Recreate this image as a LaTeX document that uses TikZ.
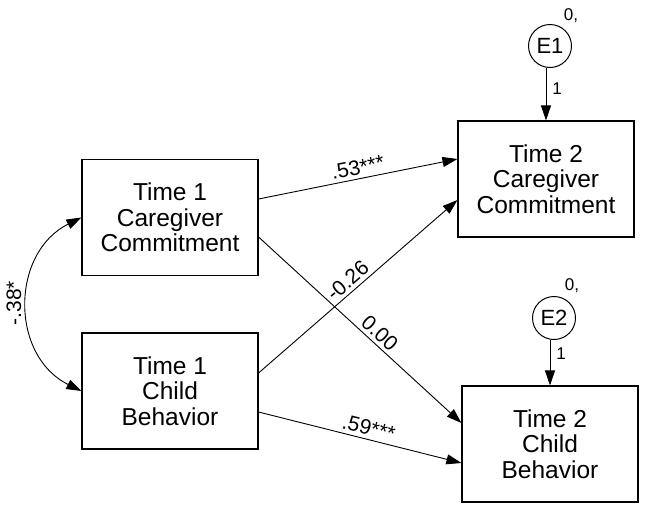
\documentclass[tikz,border=0pt]{standalone}
\usepackage{fontspec}
\setmainfont{Liberation Sans}
\usetikzlibrary{arrows.meta}
\begin{document}
\begin{tikzpicture}[x=1pt,y=-1pt,
  box/.style={draw, line width=1.1pt, minimum width=176pt, minimum height=116pt, inner sep=0pt, align=center, font=\fontsize{24.5}{25.7}\selectfont},
  err/.style={draw, circle, line width=1pt, minimum size=43pt, inner sep=0pt, font=\fontsize{22}{24}\selectfont},
  regpath/.style={line width=0.9pt, -{Triangle[length=15pt,width=10pt]}},
  covpath/.style={line width=0.9pt, {Triangle[length=15pt,width=10pt]}-{Triangle[length=15pt,width=10pt]}},
  coef/.style={sloped, above, inner sep=3.5pt, font=\fontsize{21}{22}\selectfont},
  small/.style={inner sep=0pt, font=\fontsize{17}{18}\selectfont}]
\useasboundingbox (0,0) rectangle (645,509);

\node[box] (T1CC) at (170,217.5) {Time 1\\Caregiver\\Commitment};
\node[box] (T1CB) at (170,391) {Time 1\\Child\\Behavior};
\node[box] (T2CC) at (546,179) {Time 2\\Caregiver\\Commitment};
\node[box] (T2CB) at (550,444) {Time 2\\Child\\Behavior};

\node[err] (E1) at (550,46) {E1};
\node[err] (E2) at (554,318) {E2};
\node[small] (E1v) at (571,16) {0,};
\node[small] (E2v) at (572,286) {0,};

\draw[regpath] (E1.south -| T2CC.north) -- node[small, right=6pt, pos=0.4] (E1w) {1} (T2CC.north);
\draw[regpath] (E2.south -| T2CB.north) -- node[small, right=6pt, pos=0.3] (E2w) {1} (T2CB.north);

\draw[regpath] ([yshift=18.5pt]T1CC.east) -- node[coef, pos=0.51] (b1) {.53***} ([yshift=20pt]T2CC.west);
\draw[regpath] ([yshift=18pt]T1CB.east) -- node[coef, pos=0.485] (b2) {-0.26} ([yshift=-21pt]T2CC.west);
\draw[regpath] ([yshift=-19.5pt]T1CC.east) -- node[coef, pos=0.56] (b3) {0.00} ([yshift=21pt]T2CB.west);
\draw[regpath] ([yshift=-21pt]T1CB.east) -- node[coef, pos=0.53] (b4) {.59***} ([yshift=-19pt]T2CB.west);

\draw[covpath] (T1CC.west) .. controls (10.2,253) and (10.2,356) .. (T1CB.west);
\node[rotate=90, inner sep=0pt, font=\fontsize{21}{22}\selectfont] (r) at (14,303) {-.38*};
\end{tikzpicture}
\end{document}
